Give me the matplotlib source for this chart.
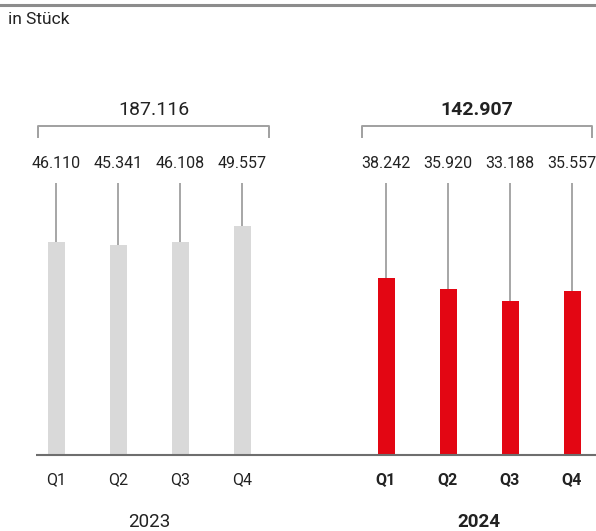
import matplotlib.pyplot as plt
from matplotlib.transforms import blended_transform_factory

plt.rcParams['font.family'] = ['Roboto', 'DejaVu Sans']

years = ['2023', '2024']
quarters = ['Q1', 'Q2', 'Q3', 'Q4']
values_2023 = [46110, 45341, 46108, 49557]
values_2024 = [38242, 35920, 33188, 35557]
totals = [187116, 142907]

W, H = 596, 531
BASE_PX = 454.5          # baseline, pixels from top
PX_PER_UNIT = 0.004611   # vertical scale


def fy(px):
    # pixel row from top -> figure fraction
    return 1 - px / H


def val_at(px):
    # pixel row from top -> data value
    return (BASE_PX - px) / PX_PER_UNIT


fig = plt.figure(figsize=(W / 100, H / 100), dpi=100)
ax = fig.add_axes([0, 0, 1, 1])
ax.set_xlim(0, W)
ax.set_ylim(val_at(H), val_at(0))
ax.axis('off')
tr = blended_transform_factory(ax.transData, fig.transFigure)

text_col = '#222222'
groups = [
    dict(x0=56, vals=values_2023, color='#d9d9d9', bold=False, bracket=(38, 269)),
    dict(x0=386, vals=values_2024, color='#e30613', bold=True, bracket=(362, 592)),
]
step = 62
bar_w = 17

# top rule and baseline
fig.add_artist(plt.Line2D([0, 1], [fy(4.5), fy(4.5)], color='#8c8c8c', lw=2.2))
ax.plot([36, W], [0, 0], color='#6e6e6e', lw=1.5, zorder=3, solid_capstyle='butt')
fig.text(8 / W, fy(20), 'in Stück', fontsize=12.5, color=text_col, va='center', ha='left')

leader_top = val_at(183)
for g, year, total in zip(groups, years, totals):
    xs = [g['x0'] + i * step for i in range(len(quarters))]
    weight = 'bold' if g['bold'] else 'normal'
    ax.bar(xs, g['vals'], width=bar_w, color=g['color'], zorder=2)
    ax.vlines(xs, g['vals'], leader_top, color='#a6a6a6', lw=1.4, zorder=1)
    for x, v, q in zip(xs, g['vals'], quarters):
        ax.text(x, fy(163), f'{v:,}'.replace(',', '.'), transform=tr, ha='center', va='center',
                fontsize=11.5, color=text_col)
        ax.text(x, fy(480), q, transform=tr, ha='center', va='center', fontsize=11.5,
                color=text_col, fontweight=weight)
    mid = (xs[0] + xs[-1]) / 2
    ax.text(mid, fy(522), year, transform=tr, ha='center', va='center', fontsize=13.5,
            color=text_col, fontweight=weight)
    # bracket over the quarters with the yearly total
    bx0, bx1 = g['bracket']
    ax.plot([bx0, bx0, bx1, bx1], [fy(137.5), fy(126), fy(126), fy(137.5)], transform=tr,
            color='#a0a0a0', lw=1.4)
    ax.text((bx0 + bx1) / 2, fy(110), f'{total:,}'.replace(',', '.'), transform=tr,
            ha='center', va='center', fontsize=14, color=text_col, fontweight=weight)

fig.savefig('out.png', dpi=100)
